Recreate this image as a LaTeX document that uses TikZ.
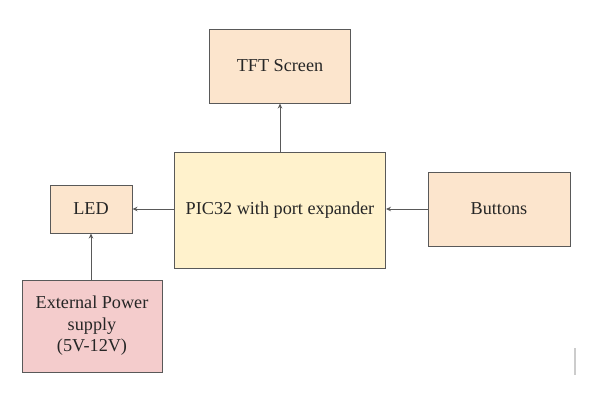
\documentclass[tikz,border=0pt]{standalone}
\usepackage{fontspec}
\setmainfont{Liberation Serif}
\usetikzlibrary{arrows.meta}
\definecolor{peach}{HTML}{FCE5CD}
\definecolor{cream}{HTML}{FFF2CC}
\definecolor{rose}{HTML}{F4CCCC}
\definecolor{edge}{HTML}{595959}
\tikzset{
  blk/.style={draw=edge,line width=1pt,inner sep=0pt,align=center,text=black!85,font=\fontsize{18.2}{21.5}\selectfont},
  link/.style={draw=edge,line width=1pt,-{Stealth[length=5pt,width=4.5pt]}}
}
\begin{document}
\begin{tikzpicture}[x=1pt,y=1pt,yscale=-1]
\useasboundingbox (0,0) rectangle (595,413);
\node [blk,fill=peach,minimum width=141pt,minimum height=74pt] (tft) at (280,66) {TFT Screen};
\node [blk,fill=cream,minimum width=211pt,minimum height=116pt] (pic) at (280,210) {PIC32 with port expander};
\node [blk,fill=peach,minimum width=82pt,minimum height=48pt] (led) at (91,209) {LED};
\node [blk,fill=rose,minimum width=140pt,minimum height=92pt] (pwr) at (92,326) {External Power\\supply\\(5V-12V)};
\node [blk,fill=peach,minimum width=142pt,minimum height=74pt] (btn) at (499,209) {Buttons};
%Links
\draw [link] (pic.north) -- (tft.south);
\draw [link] (pic.west |- led.east) -- (led.east);
\draw [link] (btn.west) -- (btn.west -| pic.east);
\draw [link] (led.south |- pwr.north) -- (led.south);
\draw [gray!40,line width=1.5pt] (575,348) -- (575,375);
\end{tikzpicture}
\end{document}
